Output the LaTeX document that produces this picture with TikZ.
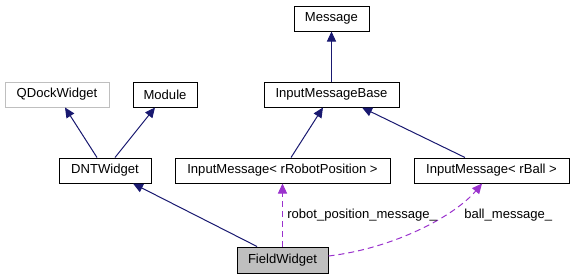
\documentclass[tikz,border=0pt]{standalone}
\usepackage{fontspec}
\setmainfont{Liberation Sans}
\usetikzlibrary{arrows.meta}
\definecolor{edgeblue}{HTML}{191970}
\definecolor{refpurple}{HTML}{9A32CD}
\definecolor{greyline}{HTML}{BFBFBF}
\begin{document}
\begin{tikzpicture}[x=0.75pt,y=-0.75pt,
  cls/.style={draw=black, line width=0.75pt, fill=white, inner sep=0pt,
    minimum height=18.75pt, font=\fontsize{9.8}{11}\selectfont},
  extcls/.style={cls, draw=greyline, text=black},
  curcls/.style={cls, fill=black!25},
  inherit/.style={draw=edgeblue, line width=0.75pt,
    -{Triangle[length=7.5pt,width=6.8pt]}},
  usage/.style={draw=refpurple, line width=0.75pt, dash pattern=on 4.5pt off 3pt,
    -{Triangle[length=7.5pt,width=6.8pt,fill=refpurple]}},
  elabel/.style={font=\fontsize{9.8}{11}\selectfont, anchor=west, inner sep=0pt}]
\useasboundingbox (0,0) rectangle (575,279);

% classes
\node[cls, minimum width=56.25pt] (message) at (331.5,18.5) {Message};
\node[cls, minimum width=101.25pt] (imbase) at (331.5,94.5) {InputMessageBase};
\node[extcls, minimum width=78pt] (qdock) at (57,94.5) {QDockWidget};
\node[cls, minimum width=48pt] (module) at (165,94.5) {Module};
\node[cls, minimum width=69pt] (dnt) at (105,170.5) {DNTWidget};
\node[cls, minimum width=161.25pt] (imrp) at (282.5,170.5) {InputMessage< rRobotPosition >};
\node[cls, minimum width=116.25pt] (imball) at (491.5,170.5) {InputMessage< rBall >};
\node[curcls, minimum width=68.25pt, minimum height=19.5pt] (field) at (282.5,260) {FieldWidget};

% inheritance
\draw[inherit] ([xshift=-6pt]dnt.north) -- ([xshift=6pt]qdock.south);
\draw[inherit] ([xshift=7.5pt]dnt.north) -- ([xshift=-7.5pt]module.south);
\draw[inherit] (imbase.north) -- (message.south);
\draw[inherit] ([xshift=6.4pt]imrp.north) -- ([xshift=-6.4pt]imbase.south);
\draw[inherit] ([xshift=-19.9pt]imball.north) -- ([xshift=22.9pt]imbase.south);
\draw[inherit] ([xshift=-19.1pt]field.north) -- ([xshift=21pt]dnt.south);

% usage relations
\draw[usage] (field.north) -- (imrp.south);
\draw[usage] ([yshift=3pt]field.east) .. controls +(67,-8) and +(-27,32) .. ([xshift=-7.1pt]imball.south);

% relation labels
\node[elabel] (lrp) at (287,215) {robot\_position\_message\_};
\node[elabel] (lball) at (464,215) {ball\_message\_};
\end{tikzpicture}
\end{document}
